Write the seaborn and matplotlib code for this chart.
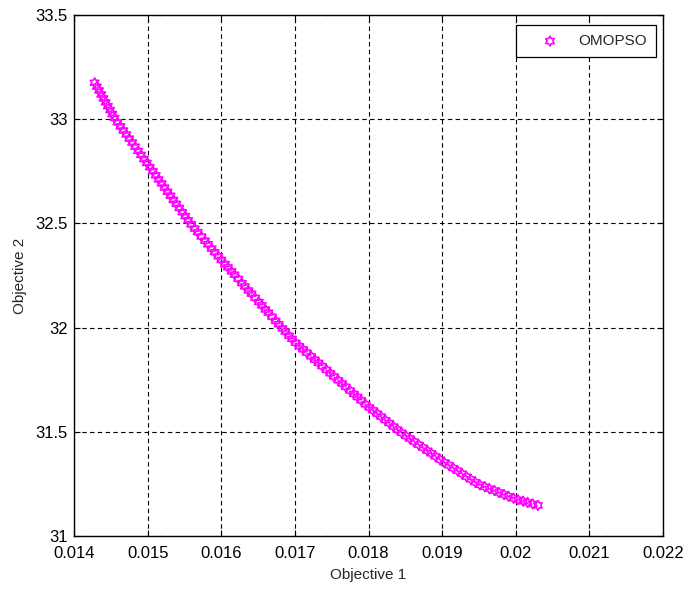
import matplotlib
matplotlib.use("Agg")
import matplotlib.pyplot as plt
from matplotlib.path import Path
import seaborn as sns

# Pareto front
obj1 = [
    0.01428, 0.01431, 0.01434, 0.01437, 0.01440, 0.01443, 0.01446, 0.01449, 0.01452, 0.01455,
    0.01459, 0.01463, 0.01467, 0.01471, 0.01475, 0.01479, 0.01483, 0.01487, 0.01491, 0.01495, 0.01499,
    0.01503, 0.01507, 0.01511, 0.01515, 0.01519, 0.01523, 0.01527, 0.01531, 0.01535, 0.01539,
    0.01543, 0.01547, 0.01551, 0.01555, 0.01559,
    0.01564, 0.01568, 0.01573, 0.01578, 0.01582, 0.01587, 0.01591, 0.01596, 0.01600,
    0.01605, 0.01609, 0.01614, 0.01618, 0.01623, 0.01628, 0.01632, 0.01637, 0.01641, 0.01646,
    0.01651, 0.01655, 0.01660, 0.01664, 0.01669, 0.01674, 0.01678, 0.01683,
    0.01687, 0.01692, 0.01696, 0.01701,
    0.01706, 0.01711, 0.01716, 0.01722, 0.01727, 0.01732, 0.01737, 0.01743, 0.01748, 0.01753,
    0.01759, 0.01764, 0.01769, 0.01775, 0.01780, 0.01785, 0.01790, 0.01796, 0.01801,
    0.01806, 0.01812, 0.01817, 0.01823, 0.01828, 0.01834, 0.01839, 0.01845,
    0.01851, 0.01856, 0.01862, 0.01868, 0.01874, 0.01880, 0.01885, 0.01891, 0.01897,
    0.01903, 0.01909, 0.01915, 0.01921, 0.01927, 0.01933, 0.01939, 0.01945, 0.01951,
    0.01958, 0.01964, 0.01971, 0.01977, 0.01984, 0.01990, 0.01997, 0.02003, 0.02010, 0.02016,
    0.02023, 0.02030,
]
obj2 = [
    33.175, 33.156, 33.138, 33.119, 33.100, 33.081, 33.063, 33.044, 33.025, 33.006,
    32.985, 32.966, 32.946, 32.927, 32.907, 32.888, 32.868, 32.848, 32.829, 32.809, 32.790,
    32.770, 32.751, 32.731, 32.711, 32.692, 32.672, 32.652, 32.633, 32.613, 32.594,
    32.574, 32.554, 32.535, 32.515, 32.496,
    32.475, 32.458, 32.437, 32.417, 32.400, 32.379, 32.362, 32.342, 32.325,
    32.305, 32.289, 32.270, 32.254, 32.234, 32.214, 32.198, 32.178, 32.163, 32.143,
    32.123, 32.107, 32.087, 32.072, 32.052, 32.032, 32.016, 31.996,
    31.981, 31.961, 31.946, 31.927,
    31.911, 31.896, 31.880, 31.862, 31.846, 31.831, 31.815, 31.797, 31.781, 31.766,
    31.747, 31.732, 31.716, 31.698, 31.682, 31.667, 31.651, 31.632, 31.617,
    31.603, 31.587, 31.573, 31.556, 31.542, 31.525, 31.511, 31.495,
    31.480, 31.468, 31.453, 31.438, 31.424, 31.409, 31.397, 31.382, 31.367,
    31.353, 31.340, 31.326, 31.313, 31.299, 31.285, 31.272, 31.258, 31.246,
    31.236, 31.227, 31.218, 31.209, 31.199, 31.191, 31.181, 31.174, 31.167, 31.161,
    31.154, 31.147,
]

xticks = [0.014, 0.015, 0.016, 0.017, 0.018, 0.019, 0.020, 0.021, 0.022]
xtick_labels = ["0.014", "0.015", "0.016", "0.017", "0.018", "0.019", "0.02", "0.021", "0.022"]
yticks = [31, 31.5, 32, 32.5, 33, 33.5]
ytick_labels = ["31", "31.5", "32", "32.5", "33", "33.5"]

sns.set_theme(style="ticks")
plt.rcParams['font.family'] = ['Liberation Sans', 'DejaVu Sans']

# MATLAB style hexagram
hexagram = Path.unit_regular_star(6, 0.57735)

fig = plt.figure(figsize=(6.98, 5.9), dpi=100)
ax = fig.add_axes([0.106, 0.0915, 0.844, 0.883])

sns.scatterplot(x=obj1, y=obj2, ax=ax, marker=hexagram, s=50, color="#ff00ff",
                edgecolor="#ff00ff", linewidth=1.15, label="OMOPSO", zorder=3)
ax.collections[0].set_facecolor("none")

ax.set_xlim(0.014, 0.022)
ax.set_ylim(31, 33.5)
ax.set_xticks(xticks)
ax.set_xticklabels(xtick_labels)
ax.set_yticks(yticks)
ax.set_yticklabels(ytick_labels)

ax.grid(True, linestyle=(0, (4, 3)), color="black", linewidth=0.8)
ax.set_axisbelow(True)
for sp in ax.spines.values():
    sp.set_visible(True)
    sp.set_color("black")
    sp.set_linewidth(1.0)
ax.tick_params(direction="in", length=4, width=0.8, top=True, right=True,
               labelsize=12, colors="black")
ax.tick_params(axis="x", pad=7)
ax.tick_params(axis="y", pad=4.5)

ax.set_xlabel("Objective 1", fontsize=11, labelpad=5)
ax.set_ylabel("Objective 2", fontsize=11, labelpad=6)

leg = ax.legend(loc="upper right", bbox_to_anchor=(0.988, 0.981), borderaxespad=0,
                fontsize=11, scatterpoints=1, handlelength=3.3, handletextpad=0.2,
                borderpad=0.6, fancybox=False, framealpha=1, edgecolor="black")
leg.get_frame().set_linewidth(0.9)

fig.savefig("out.png", dpi=100, facecolor="white")
